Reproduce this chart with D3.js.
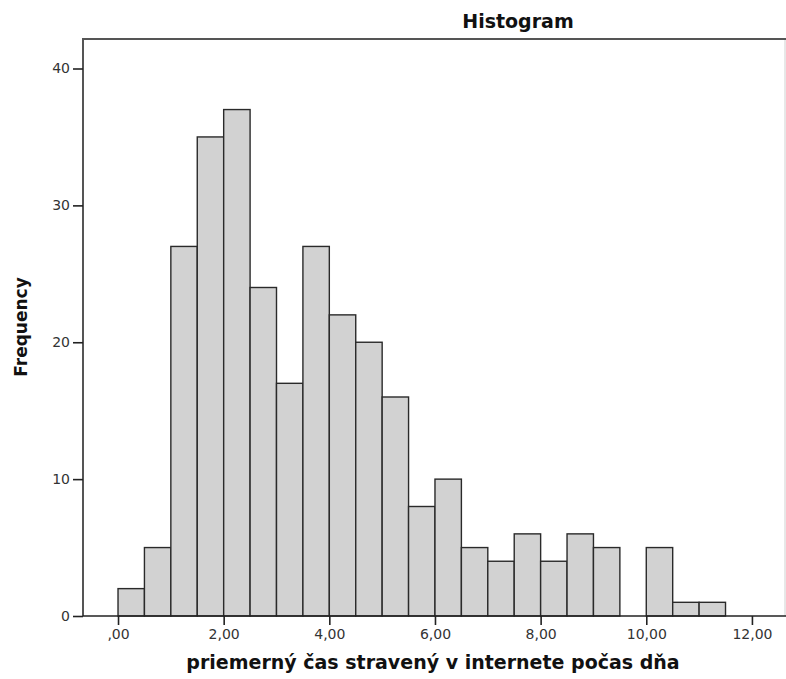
<!DOCTYPE html>
<html>
<head>
<meta charset="utf-8">
<script src="https://cdn.jsdelivr.net/npm/d3@7"></script>
<style>
body { margin: 0; background: #fff; }
</style>
</head>
<body>
<div id="chart"></div>
<script>
// histogram bins (lower edge) and counts
var binStarts = [0, 0.5, 1, 1.5, 2, 2.5, 3, 3.5, 4, 4.5, 5, 5.5, 6, 6.5, 7, 7.5, 8, 8.5, 9, 9.5, 10, 10.5, 11];
var counts = [2, 5, 27, 35, 37, 24, 17, 27, 22, 20, 16, 8, 10, 5, 4, 6, 4, 6, 5, 0, 5, 1, 1];
var binWidth = 0.5;
var xTicks = [0, 2, 4, 6, 8, 10, 12];
var xTickLabels = [',00', '2,00', '4,00', '6,00', '8,00', '10,00', '12,00'];
var yTicks = [0, 10, 20, 30, 40];

var w = 786, h = 679;
var plotLeft = 83, plotRight = 785, plotTop = 39, plotBottom = 616;

var svg = d3.select('#chart').append('svg')
    .attr('width', w)
    .attr('height', h);

var xscale = d3.scaleLinear()
    .domain([-0.663, 12.626])
    .range([plotLeft, plotRight]);

var yscale = d3.scaleLinear()
    .domain([0, 40])
    .range([plotBottom, 68.5]);

var dataset = binStarts.map(function (d, i) {
    return {x0: d, x1: d + binWidth, value: counts[i]};
});

// bars
svg.append('g')
    .selectAll('rect')
    .data(dataset.filter(function (d) { return d.value > 0; }))
    .enter()
    .append('rect')
    .attr('x', function (d) { return xscale(d.x0); })
    .attr('width', function (d) { return xscale(d.x1) - xscale(d.x0); })
    .attr('y', function (d) { return yscale(d.value); })
    .attr('height', function (d) { return yscale(0) - yscale(d.value); })
    .attr('fill', '#d2d2d2')
    .attr('stroke', '#2a2a2a')
    .attr('stroke-width', 1.4);

// right border (faint)
svg.append('line')
    .attr('x1', plotRight).attr('x2', plotRight)
    .attr('y1', plotTop).attr('y2', plotBottom)
    .attr('stroke', '#d0d0d0')
    .attr('stroke-width', 1);

// frame (left + top)
svg.append('path')
    .attr('d', 'M' + plotLeft + ',' + plotBottom + 'V' + plotTop + 'H' + (plotRight + 5))
    .attr('fill', 'none')
    .attr('stroke', '#555')
    .attr('stroke-width', 2);

var xAxis = d3.axisBottom(xscale)
    .tickValues(xTicks)
    .tickSize(9)
    .tickPadding(4)
    .tickFormat(function (d, i) { return xTickLabels[i]; });

var x_g = svg.append('g')
    .attr('class', 'xaxis')
    .attr('transform', 'translate(0,' + plotBottom + ')')
    .call(xAxis);
x_g.select('.domain')
    .attr('d', 'M' + plotLeft + ',0H' + (plotRight + 5))
    .attr('stroke', '#222')
    .attr('stroke-width', 1.6);
x_g.selectAll('line').attr('stroke', '#222').attr('stroke-width', 1.6);
x_g.selectAll('text')
    .attr('fill', '#333')
    .attr('font-family', 'DejaVu Sans')
    .attr('font-size', '14px');

var yAxis = d3.axisLeft(yscale)
    .tickValues(yTicks)
    .tickSize(10)
    .tickPadding(3);

var y_g = svg.append('g')
    .attr('class', 'yaxis')
    .attr('transform', 'translate(' + plotLeft + ',0)')
    .call(yAxis);
y_g.select('.domain').remove();
y_g.selectAll('line').attr('stroke', '#222').attr('stroke-width', 1.6);
y_g.selectAll('text')
    .attr('fill', '#333')
    .attr('font-family', 'DejaVu Sans')
    .attr('font-size', '14px');

// titles
svg.append('text')
    .text('Histogram')
    .attr('x', 518)
    .attr('y', 28)
    .attr('text-anchor', 'middle')
    .attr('font-family', 'DejaVu Sans')
    .attr('font-weight', 'bold')
    .attr('font-size', '19px')
    .attr('fill', '#111');

svg.append('text')
    .text('priemerný čas stravený v internete počas dňa')
    .attr('x', 433)
    .attr('y', 669)
    .attr('text-anchor', 'middle')
    .attr('font-family', 'DejaVu Sans')
    .attr('font-weight', 'bold')
    .attr('font-size', '19px')
    .attr('fill', '#111');

svg.append('text')
    .text('Frequency')
    .attr('transform', 'translate(27,327) rotate(-90)')
    .attr('text-anchor', 'middle')
    .attr('font-family', 'DejaVu Sans')
    .attr('font-weight', 'bold')
    .attr('font-size', '17px')
    .attr('fill', '#111');
</script>
</body>
</html>
